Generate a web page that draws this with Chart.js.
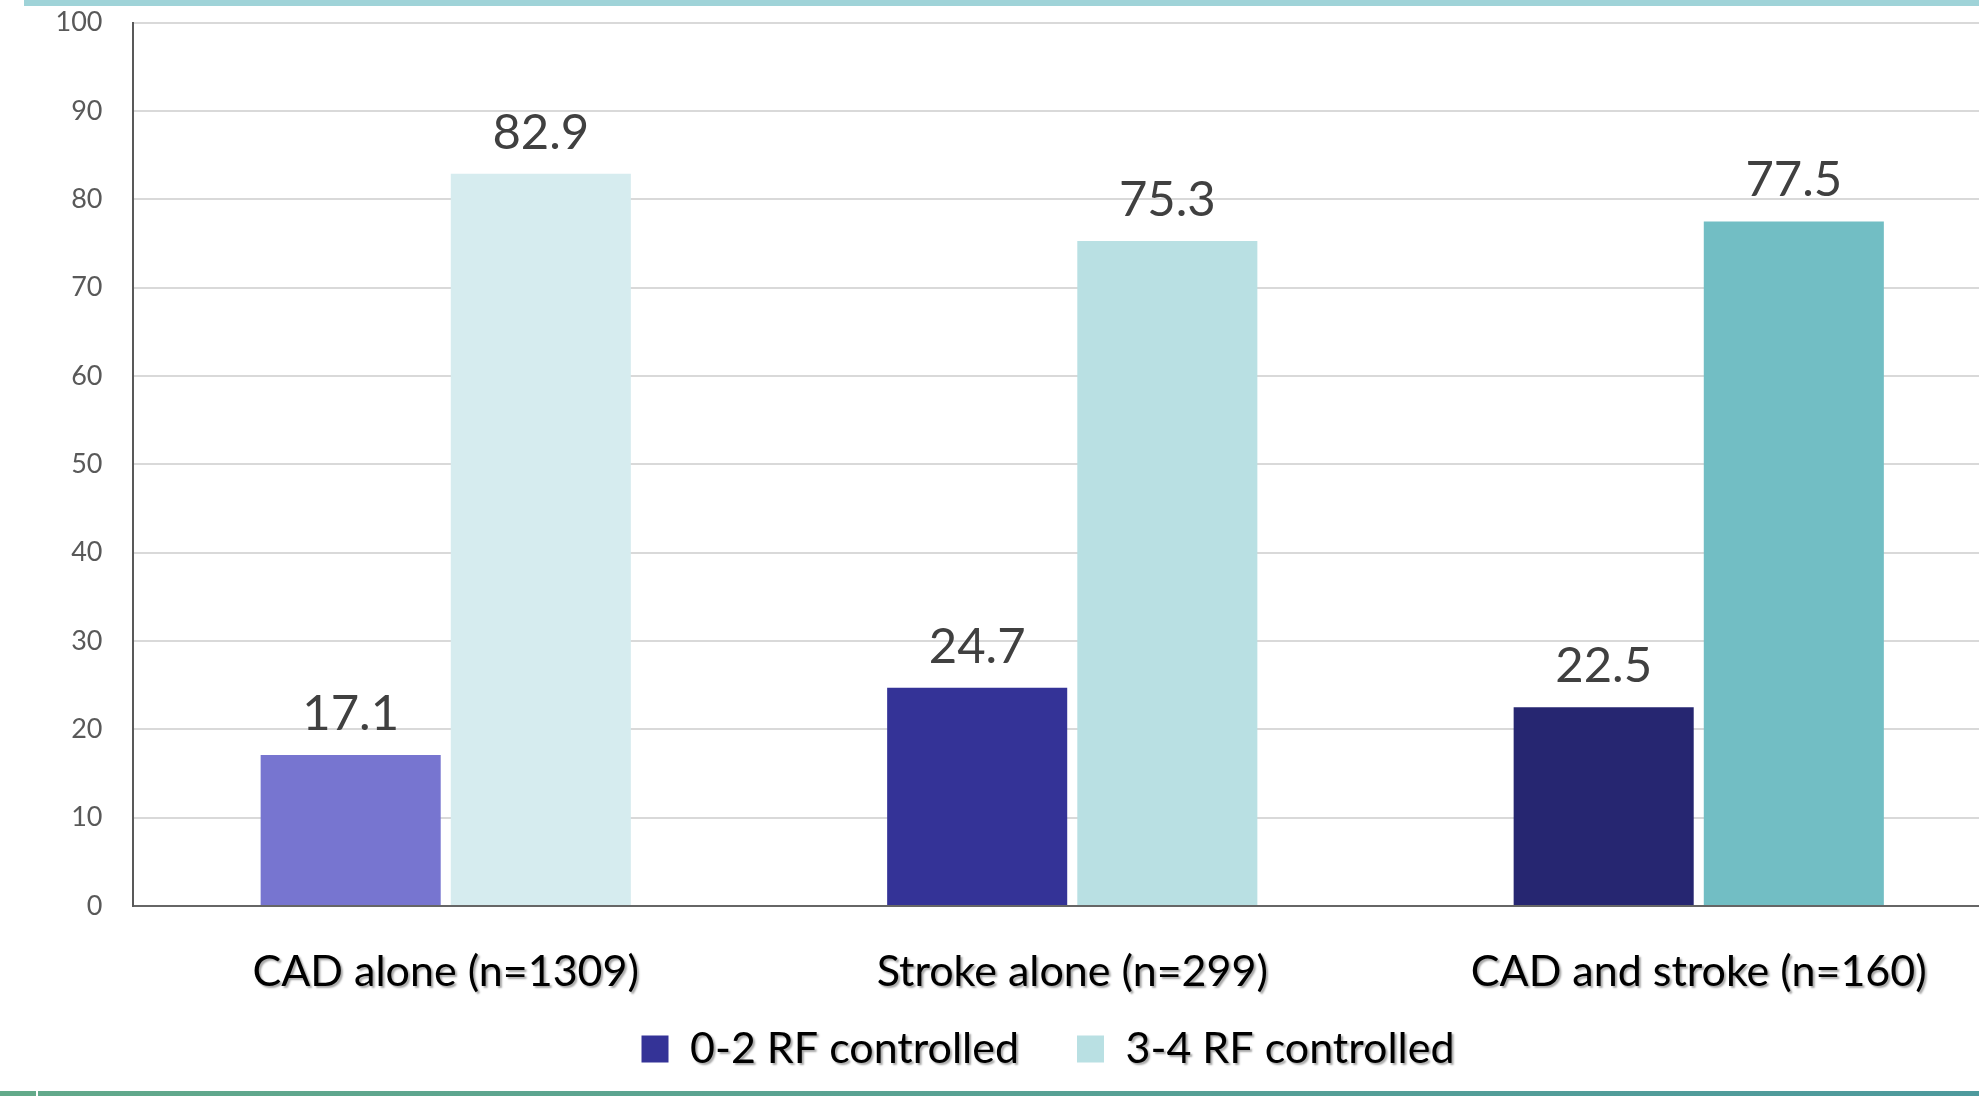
<!DOCTYPE html>
<html>
<head>
<meta charset="utf-8">
<script src="https://cdn.jsdelivr.net/npm/chart.js@4/dist/chart.umd.min.js"></script>
<style>
  html, body { margin: 0; padding: 0; background: #ffffff; overflow: hidden; width: 1979px; height: 1096px; }
  #wrap { position: absolute; left: 0; top: 0; width: 2012px; height: 1096px; }
  #topband { position: absolute; left: 24px; top: 0; width: 1955px; height: 6px; background: #9fd3d8; z-index: 2; }
  #botleft { position: absolute; left: 0; top: 1091px; width: 36px; height: 5px; background: #63aa8a; z-index: 2; }
  #botband { position: absolute; left: 38px; top: 1091px; width: 1941px; height: 5px; background: linear-gradient(to right, #62a98b, #4e9a9d); z-index: 2; }
</style>
</head>
<body>
<div id="topband"></div>
<div id="botleft"></div>
<div id="botband"></div>
<div id="wrap"><canvas id="c"></canvas></div>
<script>
const categories = ['CAD alone (n=1309)', 'Stroke alone (n=299)', 'CAD and stroke (n=160)'];
const seriesNames = ['0-2 RF controlled', '3-4 RF controlled'];
const low = [17.1, 24.7, 22.5];
const high = [82.9, 75.3, 77.5];
const lowColors = ['#7775d0', '#343397', '#262671'];
const highColors = ['#d6ecef', '#b9e0e3', '#72bec4'];
const legendColors = ['#343397', '#b9e0e3'];
const yTicks = [0, 10, 20, 30, 40, 50, 60, 70, 80, 90, 100];

const FONT = 'Lato';

const valueLabels = {
  id: 'valueLabels',
  afterDatasetsDraw(chart) {
    const ctx = chart.ctx;
    ctx.save();
    ctx.font = '49px ' + FONT;
    ctx.fillStyle = '#404040';
    ctx.textAlign = 'center';
    ctx.textBaseline = 'alphabetic';
    chart.data.datasets.forEach((ds, di) => {
      const meta = chart.getDatasetMeta(di);
      meta.data.forEach((bar, i) => {
        ctx.fillText(ds.data[i].toFixed(1), bar.x, bar.y - 25);
      });
    });
    ctx.restore();
  }
};

const shadowText = {
  id: 'shadowText',
  afterLayout(chart) {
    const wrap = (obj, fn, dx) => {
      if (!obj || obj['_sh_' + fn]) return;
      const orig = obj[fn].bind(obj);
      obj[fn] = function(...args) {
        const c = chart.ctx;
        c.save();
        c.translate(dx, 0);
        const origFill = c.fillText;
        c.fillText = function(...a) {
          c.save();
          c.shadowColor = 'rgba(0,0,0,0.35)';
          c.shadowOffsetX = 2;
          c.shadowOffsetY = 2;
          c.shadowBlur = 2;
          origFill.apply(c, a);
          c.restore();
        };
        try { orig(...args); } finally { delete c.fillText; }
        c.restore();
      };
      obj['_sh_' + fn] = true;
    };
    if (chart.scales.x) chart.scales.x._computeLabelArea = () => undefined;
    wrap(chart.scales.x, 'drawLabels', 0);
    wrap(chart.legend, 'draw', 42);
  }
};

new Chart(document.getElementById('c'), {
  type: 'bar',
  data: {
    labels: categories,
    datasets: [
      { label: seriesNames[0], data: low, backgroundColor: lowColors, borderWidth: 0 },
      { label: seriesNames[1], data: high, backgroundColor: highColors, borderWidth: 0 }
    ]
  },
  options: {
    responsive: true,
    maintainAspectRatio: false,
    animation: false,
    datasets: { bar: { categoryPercentage: 0.607, barPercentage: 0.947 } },
    layout: { padding: { left: 0, right: 0, top: 22.7, bottom: 15.5 } },
    plugins: {
      tooltip: { enabled: false },
      legend: {
        position: 'bottom',
        labels: {
          color: '#000000',
          font: { family: FONT, size: 43 },
          boxWidth: 27,
          boxHeight: 27,
          padding: 58,
          generateLabels(chart) {
            return chart.data.datasets.map((ds, i) => ({
              text: ds.label,
              fillStyle: legendColors[i],
              strokeStyle: legendColors[i],
              lineWidth: 0,
              hidden: false,
              datasetIndex: i,
              fontColor: '#000000'
            }));
          }
        }
      }
    },
    scales: {
      x: {
        grid: { display: false, drawTicks: false },
        border: { display: true, color: '#666666', width: 2 },
        ticks: { color: '#000000', font: { family: FONT, size: 43 }, padding: 40, maxRotation: 0 },
        afterFit(scale) { scale.height = 63.5; }
      },
      y: {
        min: 0,
        max: 100,
        afterBuildTicks(scale) { scale.ticks = yTicks.map(v => ({ value: v })); },
        grid: { color: '#d9d9d9', lineWidth: 2, drawTicks: true, tickLength: 30, tickColor: 'rgba(0,0,0,0)' },
        border: { display: true, color: '#595959', width: 2 },
        ticks: { color: '#595959', font: { family: FONT, size: 27 }, padding: 0 },
        afterFit(scale) { scale.width = 132.5; }
      }
    }
  },
  plugins: [valueLabels, shadowText]
});
</script>
</body>
</html>
